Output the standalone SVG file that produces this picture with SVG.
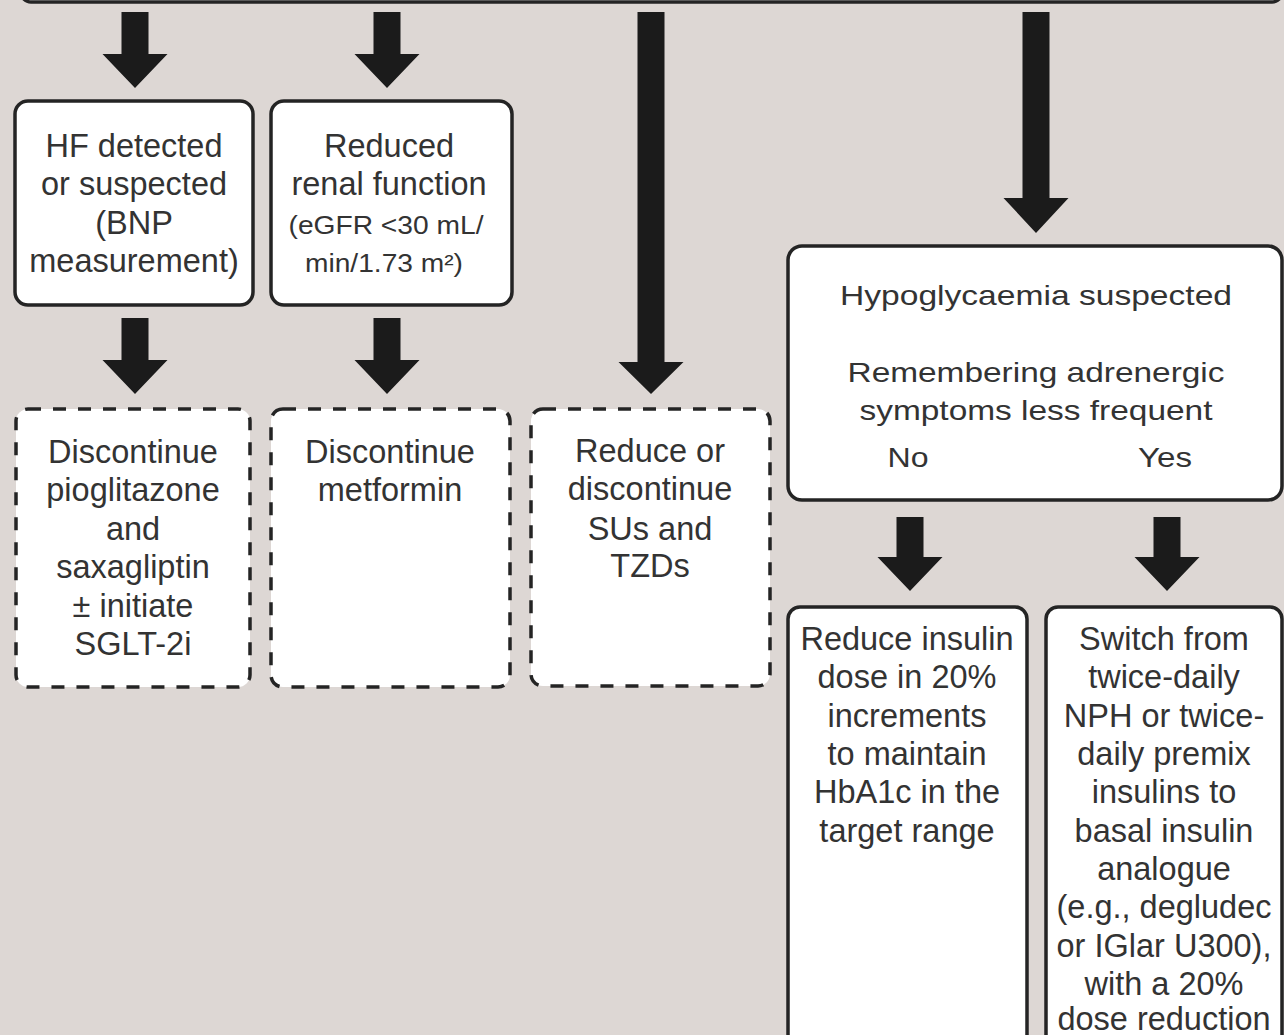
<svg xmlns="http://www.w3.org/2000/svg" width="1284" height="1035" viewBox="0 0 1284 1035">
<style>
.bg{fill:#ddd7d4}
.box{fill:#ffffff;stroke:#242424;stroke-width:3.5}
.dash{fill:#ffffff;stroke:#242424;stroke-width:3.5;stroke-dasharray:13 12}
.arrow{fill:#1b1b1b}
text{font-family:"Liberation Sans",Arial,sans-serif;fill:#333333;text-anchor:middle}
.t{font-size:32.5px}
.s{font-size:26px}
.h{font-size:28px}
</style>
<rect class="bg" x="0" y="0" width="1284" height="1035"/>
<g id="top-box"><rect class="box" x="21" y="-60" width="1261" height="62" rx="10"/></g>
<g id="connectors">
<path class="arrow" d="M121.5,12H148.5V54H167.5L135,88L102.5,54H121.5Z"/>
<path class="arrow" d="M373.5,12H400.5V54H419.5L387,88L354.5,54H373.5Z"/>
<path class="arrow" d="M637.5,12H664.5V362H683.5L651,394L618.5,362H637.5Z"/>
<path class="arrow" d="M1022.5,12H1049.5V198H1068.5L1036,233L1003.5,198H1022.5Z"/>
<path class="arrow" d="M121.5,318H148.5V360H167.5L135,394L102.5,360H121.5Z"/>
<path class="arrow" d="M373.5,318H400.5V360H419.5L387,394L354.5,360H373.5Z"/>
<path class="arrow" d="M896.5,517H923.5V557H942.5L910,591L877.5,557H896.5Z"/>
<path class="arrow" d="M1153.5,517H1180.5V557H1199.5L1167,591L1134.5,557H1153.5Z"/>
</g>
<g id="node-hf">
<rect class="box" x="15" y="101" width="238" height="204" rx="13"/>
<text class="t" x="134" y="157">HF detected</text>
<text class="t" x="134" y="195">or suspected</text>
<text class="t" x="134" y="234">(BNP</text>
<text class="t" x="134" y="272">measurement)</text>
</g>
<g id="node-renal">
<rect class="box" x="271" y="101" width="241" height="204" rx="13"/>
<text class="t" x="389" y="157">Reduced</text>
<text class="t" x="389" y="195">renal function</text>
<text class="s" x="386" y="234" textLength="195" lengthAdjust="spacingAndGlyphs">(eGFR &lt;30 mL/</text>
<text class="s" x="384" y="272" textLength="158" lengthAdjust="spacingAndGlyphs">min/1.73 m²)</text>
</g>
<g id="node-discontinue-pio">
<rect class="dash" x="16" y="409" width="234" height="278" rx="12"/>
<text class="t" x="133" y="463">Discontinue</text>
<text class="t" x="133" y="501">pioglitazone</text>
<text class="t" x="133" y="540">and</text>
<text class="t" x="133" y="578">saxagliptin</text>
<text class="t" x="133" y="617">± initiate</text>
<text class="t" x="133" y="655">SGLT-2i</text>
</g>
<g id="node-discontinue-met">
<rect class="dash" x="271" y="409" width="239" height="278" rx="12"/>
<text class="t" x="390" y="463">Discontinue</text>
<text class="t" x="390" y="501">metformin</text>
</g>
<g id="node-reduce-su">
<rect class="dash" x="531" y="409" width="239" height="277" rx="12"/>
<text class="t" x="650" y="462">Reduce or</text>
<text class="t" x="650" y="500">discontinue</text>
<text class="t" x="650" y="540">SUs and</text>
<text class="t" x="650" y="577">TZDs</text>
</g>
<g id="node-hypo">
<rect class="box" x="788" y="246" width="494" height="254" rx="14"/>
<text class="h" x="1036" y="305" textLength="392" lengthAdjust="spacingAndGlyphs">Hypoglycaemia suspected</text>
<text class="h" x="1036" y="382" textLength="377" lengthAdjust="spacingAndGlyphs">Remembering adrenergic</text>
<text class="h" x="1036" y="420" textLength="353" lengthAdjust="spacingAndGlyphs">symptoms less frequent</text>
<text class="h" x="908" y="467" textLength="41" lengthAdjust="spacingAndGlyphs">No</text>
<text class="h" x="1165" y="467" textLength="54" lengthAdjust="spacingAndGlyphs">Yes</text>
</g>
<g id="node-reduce-insulin">
<rect class="box" x="788" y="607" width="239" height="460" rx="12"/>
<text class="t" x="907" y="650">Reduce insulin</text>
<text class="t" x="907" y="688">dose in 20%</text>
<text class="t" x="907" y="727">increments</text>
<text class="t" x="907" y="765">to maintain</text>
<text class="t" x="907" y="803">HbA1c in the</text>
<text class="t" x="907" y="842">target range</text>
</g>
<g id="node-switch">
<rect class="box" x="1046" y="607" width="236" height="460" rx="12"/>
<text class="t" x="1164" y="650">Switch from</text>
<text class="t" x="1164" y="688">twice-daily</text>
<text class="t" x="1164" y="727">NPH or twice-</text>
<text class="t" x="1164" y="765">daily premix</text>
<text class="t" x="1164" y="803">insulins to</text>
<text class="t" x="1164" y="842">basal insulin</text>
<text class="t" x="1164" y="880">analogue</text>
<text class="t" x="1164" y="918">(e.g., degludec</text>
<text class="t" x="1164" y="957">or IGlar U300),</text>
<text class="t" x="1164" y="995">with a 20%</text>
<text class="t" x="1164" y="1030">dose reduction</text>
</g>
</svg>
